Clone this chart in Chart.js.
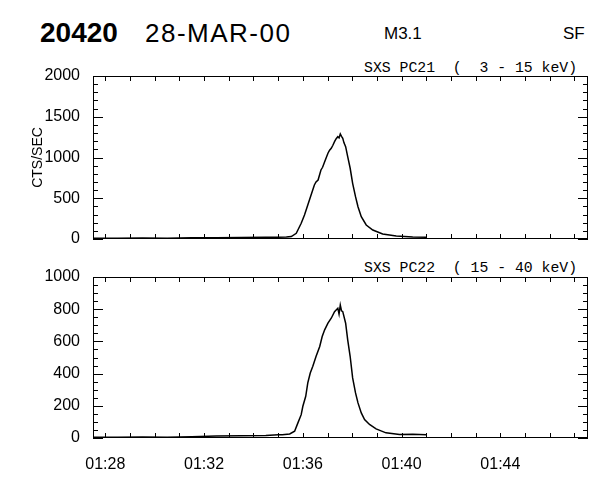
<!DOCTYPE html>
<html>
<head>
<meta charset="utf-8">
<script src="https://cdn.jsdelivr.net/npm/chart.js@4"></script>
<style>
  body { margin: 0; background: #fff; }
  #page { position: relative; width: 600px; height: 480px; background: #fff; overflow: hidden; font-family: "Liberation Sans", sans-serif; color: #000; }
  .txt { position: absolute; white-space: pre; line-height: 1; }
  .sub { font-family: "Liberation Mono", monospace; font-size: 14.8px; }
  canvas { position: absolute; left: 0; }
</style>
</head>
<body>
<div id="page">
  <div class="txt" style="left:40px; top:19px; font-size:28px; font-weight:bold;">20420</div>
  <div class="txt" style="left:145px; top:20px; font-size:26px; letter-spacing:1.5px;">28-MAR-00</div>
  <div class="txt" style="left:384px; top:25px; font-size:17px;">M3.1</div>
  <div class="txt" style="left:563px; top:25px; font-size:17px;">SF</div>
  <div class="txt sub" style="left:364px; top:61px;">SXS PC21  (  3 - 15 keV)</div>
  <div class="txt sub" style="left:364px; top:261px;">SXS PC22  ( 15 - 40 keV)</div>
  <canvas id="pc21" width="600" height="200" style="top:60px"></canvas>
  <canvas id="pc22" width="600" height="220" style="top:260px"></canvas>
</div>
<script>
// time axis: minutes after 01:28:00 UT
const tStart = -0.5, tEnd = 19.55;
const labelMinutes = [0, 4, 8, 12, 16];

// SXS PC21 (3 - 15 keV)
const pc21Times = ['01:27:30','01:28:30','01:29:30','01:30:30','01:31:30','01:32:30','01:33:30','01:34:30','01:35:00','01:35:20',
  '01:35:32','01:35:44','01:35:56','01:36:04','01:36:12','01:36:20','01:36:28','01:36:32','01:36:37','01:36:44',
  '01:36:48','01:36:53','01:36:57','01:37:01','01:37:05','01:37:09','01:37:13','01:37:17','01:37:21','01:37:25',
  '01:37:28','01:37:31','01:37:34','01:37:37','01:37:40','01:37:44','01:37:49','01:37:55','01:38:01','01:38:08',
  '01:38:14','01:38:22','01:38:34','01:38:50','01:39:14','01:39:47','01:40:27','01:41:00'];
const pc21Counts = [10, 8, 12, 10, 15, 14, 18, 20, 22, 25,
  30, 70, 193, 294, 417, 540, 663, 700, 724, 847,
  880, 948, 1000, 1052, 1090, 1113, 1150, 1194, 1230, 1255,
  1240, 1288, 1260, 1236, 1180, 1133, 1010, 868, 683, 519,
  396, 274, 172, 110, 61, 37, 25, 21];

// SXS PC22 (15 - 40 keV)
const pc22Times = ['01:27:30','01:28:30','01:29:30','01:30:30','01:31:30','01:32:30','01:33:30','01:34:30','01:35:00','01:35:10',
  '01:35:28','01:35:40','01:35:48','01:35:56','01:36:00','01:36:07','01:36:12','01:36:18','01:36:24','01:36:32',
  '01:36:41','01:36:47','01:36:53','01:37:01','01:37:09','01:37:17','01:37:25','01:37:28','01:37:31','01:37:34',
  '01:37:37','01:37:44','01:37:49','01:37:55','01:38:01','01:38:08','01:38:14','01:38:22','01:38:30','01:38:42',
  '01:38:58','01:39:22','01:39:55','01:40:27','01:41:00'];
const pc22Counts = [5, 4, 6, 5, 8, 12, 14, 16, 20, 20,
  25, 42, 94, 145, 197, 259, 342, 404, 444, 506,
  568, 630, 672, 713, 744, 785, 806, 770, 826, 790,
  785, 713, 610, 506, 373, 280, 218, 156, 115, 84,
  57, 32, 22, 24, 20];

function toMin(s) {
  const p = s.split(':').map(Number);
  return (p[0] * 60 + p[1] + p[2] / 60) - 88;
}
function fmtMin(m) {
  const tot = 88 + m;
  const h = Math.floor(tot / 60), mm = Math.round(tot % 60);
  return String(h).padStart(2, '0') + ':' + String(mm).padStart(2, '0');
}

// closed frame + inward IDL-style ticks on all four sides
const frameTicks = {
  id: 'frameTicks',
  afterDraw(chart, args, opts) {
    const {ctx, chartArea: a, scales: {x, y}} = chart;
    ctx.save();
    ctx.strokeStyle = '#000';
    ctx.lineWidth = 1;
    ctx.strokeRect(a.left + 0.5, a.top + 0.5, a.right - a.left - 1, a.bottom - a.top - 1);
    ctx.beginPath();
    for (let m = 0; m <= 19; m++) {
      const px = Math.round(x.getPixelForValue(m)) + 0.5;
      ctx.moveTo(px, a.bottom); ctx.lineTo(px, a.bottom - 5);
      ctx.moveTo(px, a.top); ctx.lineTo(px, a.top + 5);
    }
    for (let v = 0; v <= opts.max; v += opts.minor) {
      const py = Math.round(y.getPixelForValue(v)) + 0.5;
      const len = v % opts.major === 0 ? 10 : 5;
      ctx.moveTo(a.left, py); ctx.lineTo(a.left + len, py);
      ctx.moveTo(a.right, py); ctx.lineTo(a.right - len, py);
    }
    ctx.stroke();
    ctx.restore();
  }
};

const tickFont = {family: 'Liberation Sans', size: 16};

function makeChart(id, times, counts, cfg) {
  const pts = times.map((t, i) => ({x: toMin(t), y: counts[i]}));
  return new Chart(document.getElementById(id), {
    type: 'line',
    data: {datasets: [{data: pts, borderColor: '#000', borderWidth: 1.5, pointRadius: 0, tension: 0, fill: false}]},
    plugins: [frameTicks],
    options: {
      responsive: false,
      animation: false,
      layout: {padding: {top: cfg.padTop, right: 12, left: 0, bottom: 0}},
      plugins: {legend: {display: false}, tooltip: {enabled: false}, frameTicks: cfg.ticks},
      scales: {
        x: {
          type: 'linear', min: tStart, max: tEnd,
          grid: {display: false}, border: {display: false},
          afterBuildTicks: s => { s.ticks = labelMinutes.map(v => ({value: v})); },
          afterFit: s => { s.height = cfg.xHeight; },
          ticks: {display: cfg.showX, color: '#000', font: tickFont, padding: 9, maxRotation: 0, callback: v => fmtMin(v)}
        },
        y: {
          min: 0, max: cfg.ticks.max,
          grid: {display: false}, border: {display: false},
          afterFit: s => { s.width = 93; },
          ticks: {stepSize: cfg.ticks.major, color: '#000', font: tickFont, padding: 5, callback: v => String(v)},
          title: cfg.yTitle ? {display: true, text: cfg.yTitle, color: '#000', font: {family: 'Liberation Sans', size: 14}, padding: {top: 30, bottom: 0}} : {display: false}
        }
      }
    }
  });
}

makeChart('pc21', pc21Times, pc21Counts, {padTop: 16, xHeight: 21, showX: false, yTitle: 'CTS/SEC', ticks: {max: 2000, major: 500, minor: 100}});
makeChart('pc22', pc22Times, pc22Counts, {padTop: 17, xHeight: 42, showX: true, yTitle: '', ticks: {max: 1000, major: 200, minor: 50}});
</script>
</body>
</html>
